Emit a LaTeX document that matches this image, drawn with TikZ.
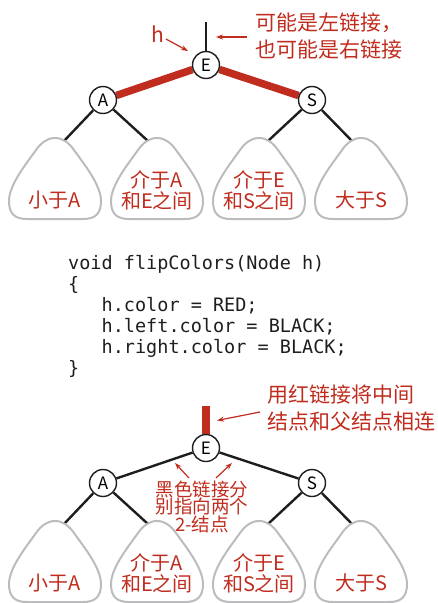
\documentclass[tikz,border=0pt]{standalone}
\usepackage{fontspec}
\newfontfamily\cjk{Noto Sans CJK SC}
\newfontfamily\codefont{DejaVu Sans Mono}
\usetikzlibrary{arrows.meta,backgrounds}
\definecolor{bookred}{RGB}{192,44,30}
\definecolor{blobgray}{RGB}{188,188,190}
\definecolor{ink}{RGB}{30,30,30}
\lineskiplimit=-20pt
\tikzset{
  key/.style={circle,draw=ink,line width=1.4pt,fill=white,minimum size=27pt,
    inner sep=0pt,font=\cjk\fontsize{17}{17}\selectfont},
  link/.style={line width=2.4pt,draw=ink},
  redlink/.style={line width=7.5pt,draw=bookred},
  note/.style={text=bookred,inner sep=0pt,align=left,
    font=\cjk\fontsize{21}{27}\selectfont},
  smallnote/.style={text=bookred,inner sep=0pt,align=center,
    font=\cjk\fontsize{18.5}{17.5}\selectfont},
  leaflabel/.style={text=bookred,inner sep=0pt,align=center,
    font=\cjk\fontsize{20}{21}\selectfont},
  pointer/.style={draw=bookred,line width=1.2pt,-{Stealth[length=7pt,width=5pt]}},
  codeline/.style={anchor=base west,inner sep=0pt,text=ink,
    font=\codefont\fontsize{18.5}{21}\selectfont},
  subtree/.pic={
    \draw[blobgray,line width=2pt] (0,0)
      .. controls (8,0) and (14,5) .. (19,12)
      .. controls (29,26) and (46,47) .. (46,63)
      .. controls (46,76) and (40,81) .. (28,81) -- (-28,81)
      .. controls (-40,81) and (-46,76) .. (-46,63)
      .. controls (-46,47) and (-29,26) .. (-19,12)
      .. controls (-14,5) and (-8,0) .. cycle;
    \coordinate (-tl) at (-9,3);
    \coordinate (-tr) at (9,3);
  }
}
\begin{document}
\begin{tikzpicture}[x=1pt,y=-1pt]
\useasboundingbox (0,0) rectangle (438,603);

% ---------- upper tree: before the flip ----------
\node[key] (E1) at (206,65) {E};
\node[key] (A1) at (103,100) {A};
\node[key] (S1) at (312,100) {S};
\pic (t1) at (55,138) {subtree};
\pic (t2) at (157,138) {subtree};
\pic (t3) at (259,138) {subtree};
\pic (t4) at (361,138) {subtree};
\coordinate (up1) at (206,22);
\begin{scope}[on background layer]
  \draw[redlink] (E1) -- (A1);
  \draw[redlink] (E1) -- (S1);
  \draw[link] (up1) -- (E1);
  \draw[link] (A1) -- (t1-tr);
  \draw[link] (A1) -- (t2-tl);
  \draw[link] (S1) -- (t3-tr);
  \draw[link] (S1) -- (t4-tl);
\end{scope}
\node[leaflabel] (l1) at (55,200) {小于A};
\node[leaflabel] (l2) at (157,190.5) {介于A\\和E之间};
\node[leaflabel] (l3) at (259,190.5) {介于E\\和S之间};
\node[leaflabel] (l4) at (361,200) {大于S};

\node[text=bookred,inner sep=0pt,font=\cjk\fontsize{21}{21}\selectfont] (h) at (158,34) {h};
\coordinate (hs) at (166,39);
\coordinate (ht) at (188,51);
\draw[pointer] (hs) -- (ht);
\node[note,anchor=west] (n1) at (255,36.5) {可能是左链接，\\也可能是右链接};
\coordinate (n1s) at (247,37);
\coordinate (n1t) at (216,37);
\draw[pointer] (n1s) -- (n1t);

% ---------- the code ----------
\node[codeline] (c1) at (68,269.5) {void flipColors(Node h)};
\node[codeline] (c2) at (68,290.5) {\{};
\node[codeline] (c3) at (101.5,311.5) {h.color = RED;};
\node[codeline] (c4) at (101.5,332.5) {h.left.color = BLACK;};
\node[codeline] (c5) at (101.5,353.5) {h.right.color = BLACK;};
\node[codeline] (c6) at (68,374.5) {\}};

% ---------- lower tree: after the flip ----------
\node[key] (E2) at (206,448) {E};
\node[key] (A2) at (103,483) {A};
\node[key] (S2) at (312,483) {S};
\pic (u1) at (55,521) {subtree};
\pic (u2) at (157,521) {subtree};
\pic (u3) at (259,521) {subtree};
\pic (u4) at (361,521) {subtree};
\coordinate (up2) at (206,406);
\begin{scope}[on background layer]
  \draw[line width=8pt,draw=bookred] (up2) -- (E2);
  \draw[link] (E2) -- (A2);
  \draw[link] (E2) -- (S2);
  \draw[link] (A2) -- (u1-tr);
  \draw[link] (A2) -- (u2-tl);
  \draw[link] (S2) -- (u3-tr);
  \draw[link] (S2) -- (u4-tl);
\end{scope}
\node[leaflabel] (m1) at (55,583) {小于A};
\node[leaflabel] (m2) at (157,573.5) {介于A\\和E之间};
\node[leaflabel] (m3) at (259,573.5) {介于E\\和S之间};
\node[leaflabel] (m4) at (361,583) {大于S};

\node[note,anchor=west] (n2) at (267,408.5) {用红链接将中间\\结点和父结点相连};
\coordinate (n2s) at (260,412);
\coordinate (n2t) at (217,420.5);
\draw[pointer] (n2s) -- (n2t);

\node[smallnote] (n3) at (202,506.5) {黑色链接分\\别指向两个\\2-结点};
\coordinate (n3a) at (189,478);
\coordinate (n3b) at (175,463);
\coordinate (n3c) at (216,478);
\coordinate (n3d) at (232,463);
\draw[pointer] (n3a) -- (n3b);
\draw[pointer] (n3c) -- (n3d);
\end{tikzpicture}
\end{document}
